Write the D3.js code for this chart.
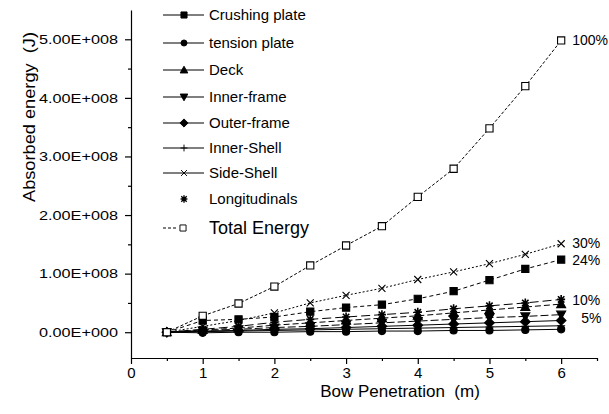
<!DOCTYPE html>
<html>
<head>
<meta charset="utf-8">
<script src="https://cdn.jsdelivr.net/npm/d3@7"></script>
<style>
  body { margin: 0; background: #fff; }
  text { font-family: "Liberation Sans", Arial, sans-serif; fill: #000; white-space: pre; }
</style>
</head>
<body>
<script>
// bow penetration (m)
var penetration = [0.5, 1, 1.5, 2, 2.5, 3, 3.5, 4, 4.5, 5, 5.5, 6];

// absorbed energy, units of 1e8 J
var crushingPlate = [0, 0.20, 0.22, 0.26, 0.35, 0.42, 0.47, 0.57, 0.70, 0.89, 1.08, 1.24];
var tensionPlate  = [0, -0.01, 0, 0, 0.01, 0.01, 0.02, 0.02, 0.03, 0.03, 0.04, 0.05];
var deck          = [0, 0.04, 0.07, 0.12, 0.16, 0.20, 0.24, 0.28, 0.33, 0.38, 0.43, 0.48];
var innerFrame    = [0, 0.03, 0.05, 0.08, 0.10, 0.13, 0.16, 0.19, 0.22, 0.25, 0.27, 0.30];
var outerFrame    = [0, 0.02, 0.03, 0.05, 0.06, 0.08, 0.10, 0.12, 0.14, 0.16, 0.18, 0.20];
var innerShell    = [0, 0.01, 0.02, 0.03, 0.04, 0.05, 0.06, 0.07, 0.08, 0.09, 0.10, 0.11];
var sideShell     = [0, 0.10, 0.20, 0.33, 0.50, 0.63, 0.75, 0.90, 1.03, 1.17, 1.33, 1.51];
var longitudinals = [0, 0.05, 0.10, 0.17, 0.22, 0.26, 0.30, 0.34, 0.40, 0.45, 0.50, 0.56];
var totalEnergy   = [0, 0.28, 0.49, 0.78, 1.14, 1.48, 1.81, 2.31, 2.79, 3.48, 4.20, 4.98];

var seriesNames = ["Crushing plate", "tension plate", "Deck", "Inner-frame", "Outer-frame",
                   "Inner-Shell", "Side-Shell", "Longitudinals", "Total Energy"];

var yTickValues = [0, 1, 2, 3, 4, 5];
var yTickLabels = ["0.00E+000", "1.00E+008", "2.00E+008", "3.00E+008", "4.00E+008", "5.00E+008"];
var xTickValues = [0, 1, 2, 3, 4, 5, 6];

var pctLabels = ["100%", "30%", "24%", "10%", "5%"];
var pctValues = [4.98, 1.52, 1.24, 0.55, 0.25];

var svg = d3.select("body").append("svg")
    .attr("width", 609)
    .attr("height", 414);

var x = d3.scaleLinear().domain([0, 6.5]).range([131, 597]);
var y = d3.scaleLinear().domain([-0.44, 5.5]).range([358, 10]);

// marker paths centred on 0,0
function marker(type) {
  var s = 3.6;
  switch (type) {
    case "square": return "M" + -s + "," + -s + "h" + 2*s + "v" + 2*s + "h" + -2*s + "Z";
    case "circle": return d3.symbol(d3.symbolCircle, 40)();
    case "up": return "M0,-4.5L4.5,3.5L-4.5,3.5Z";
    case "down": return "M0,4.5L4.5,-3.5L-4.5,-3.5Z";
    case "diamond": return "M0,-4.8L4.8,0L0,4.8L-4.8,0Z";
    case "plus": return "M-4,0H4M0,-4V4";
    case "times": return "M-3.5,-3.5L3.5,3.5M-3.5,3.5L3.5,-3.5";
    case "star": return "M-4,0H4M0,-4.5V4.5M-3.2,-3.2L3.2,3.2M-3.2,3.2L3.2,-3.2";
  }
}

var series = [
  {name: seriesNames[0], values: crushingPlate, sym: "square", fill: "#000", dash: "4,3", line: true},
  {name: seriesNames[1], values: tensionPlate, sym: "circle", fill: "#000", dash: null, line: true},
  {name: seriesNames[2], values: deck, sym: "up", fill: "#000", dash: "6,3", line: true},
  {name: seriesNames[3], values: innerFrame, sym: "down", fill: "#000", dash: "8,3", line: true},
  {name: seriesNames[4], values: outerFrame, sym: "diamond", fill: "#000", dash: null, line: true},
  {name: seriesNames[5], values: innerShell, sym: "plus", fill: "none", dash: null, line: true},
  {name: seriesNames[6], values: sideShell, sym: "times", fill: "none", dash: "2,2", line: true},
  {name: seriesNames[7], values: longitudinals, sym: "star", fill: "none", dash: "9,4", line: false},
  {name: seriesNames[8], values: totalEnergy, sym: "square", fill: "#fff", dash: "3,2", line: true}
];

var line = d3.line()
    .x(function(d, i) { return x(penetration[i]); })
    .y(function(d) { return y(d); });

// axes
var yAxis = svg.append("g")
    .attr("transform", "translate(" + x(0) + ",0)")
    .call(d3.axisLeft(y).tickValues(yTickValues).tickSize(6).tickSizeOuter(0)
      .tickFormat(function(d, i) { return yTickLabels[i]; }));
yAxis.selectAll("text")
    .attr("x", -13)
    .style("font-size", "13px")
    .attr("textLength", 79)
    .attr("lengthAdjust", "spacingAndGlyphs");

svg.append("g")
    .attr("transform", "translate(" + x(0) + ",0)")
    .call(d3.axisLeft(y).tickValues(d3.range(0.5, 5, 1)).tickSize(3).tickSizeOuter(0).tickFormat(""))
    .select(".domain").remove();

var xAxis = svg.append("g")
    .attr("transform", "translate(0," + y.range()[0] + ")")
    .call(d3.axisBottom(x).tickValues(xTickValues).tickSize(6).tickSizeOuter(0).tickFormat(d3.format("d")));
xAxis.selectAll("text")
    .attr("y", 9)
    .style("font-size", "15px");

svg.append("g")
    .attr("transform", "translate(0," + y.range()[0] + ")")
    .call(d3.axisBottom(x).tickValues(d3.range(0.5, 7, 1)).tickSize(3).tickSizeOuter(0).tickFormat(""))
    .select(".domain").remove();

svg.selectAll(".domain, .tick line").attr("stroke", "#000").attr("stroke-width", 1.2);

svg.append("text")
    .attr("transform", "translate(35,117) rotate(-90)")
    .attr("text-anchor", "middle")
    .style("font-size", "17px")
    .attr("textLength", 170)
    .attr("lengthAdjust", "spacingAndGlyphs")
    .text("Absorbed energy  (J)");

svg.append("text")
    .attr("x", 400)
    .attr("y", 397)
    .attr("text-anchor", "middle")
    .style("font-size", "17px")
    .text("Bow Penetration  (m)");

// data
var plot = svg.append("g");

series.forEach(function(s) {
  plot.append("path")
    .datum(s.values)
    .attr("d", line)
    .attr("fill", "none")
    .attr("stroke", "#000")
    .attr("stroke-width", 1)
    .attr("stroke-dasharray", s.dash);
});

series.forEach(function(s) {
  plot.selectAll(null)
    .data(s.values)
    .enter().append("path")
    .attr("transform", function(d, i) { return "translate(" + x(penetration[i]) + "," + y(d) + ")"; })
    .attr("d", marker(s.sym))
    .attr("fill", s.fill)
    .attr("stroke", "#000")
    .attr("stroke-width", s.sym === "star" ? 1.6 : 1.1);
});

// percentage notes at the end of the curves
plot.selectAll(".pct")
  .data(pctLabels)
  .enter().append("text")
  .attr("class", "pct")
  .attr("x", function(d, i) { return x(6) + (d === "5%" ? 20 : 11); })
  .attr("y", function(d, i) { return y(pctValues[i]) + 5; })
  .style("font-size", "14px")
  .text(function(d) { return d; });

// legend
var legendY = [15, 43, 70, 97, 123, 148, 173, 199, 228];
var legend = svg.append("g");
series.forEach(function(s, i) {
  var g = legend.append("g").attr("transform", "translate(0," + legendY[i] + ")");
  if (s.name === "Total Energy") {
    g.append("line").attr("x1", 163).attr("x2", 178)
      .attr("stroke", "#000").attr("stroke-dasharray", "3,2");
  } else if (s.line) {
    g.append("line").attr("x1", 163).attr("x2", 204)
      .attr("stroke", "#000").attr("stroke-width", 1.2);
  }
  g.append("path")
    .attr("transform", "translate(" + (s.name === "Total Energy" ? 183 : 184) + ",0) scale(0.85)")
    .attr("d", marker(s.sym))
    .attr("fill", s.fill)
    .attr("stroke", "#000")
    .attr("stroke-width", s.sym === "star" ? 1.6 : 1.1);
  g.append("text")
    .attr("x", 209)
    .attr("y", s.name === "Total Energy" ? 6 : 5)
    .style("font-size", s.name === "Total Energy" ? "18px" : "15px")
    .text(s.name);
});
</script>
</body>
</html>
